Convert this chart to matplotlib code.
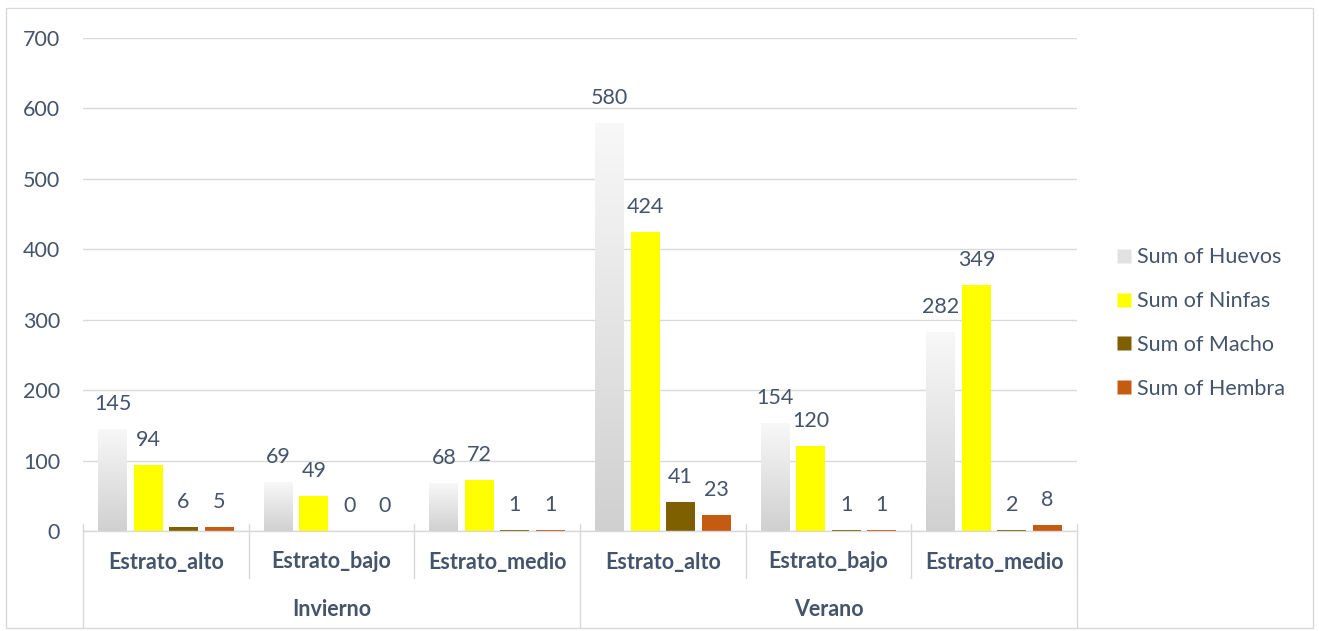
import numpy as np
import matplotlib.pyplot as plt
from matplotlib.colors import LinearSegmentedColormap
from matplotlib.lines import Line2D
from matplotlib.patches import Rectangle
import matplotlib.transforms as mtransforms

# Data
seasons = ['Invierno', 'Verano']
strata = ['Estrato_alto', 'Estrato_bajo', 'Estrato_medio'] * 2
series_names = ['Sum of Huevos', 'Sum of Ninfas', 'Sum of Macho', 'Sum of Hembra']
huevos = [145, 69, 68, 580, 154, 282]
ninfas = [94, 49, 72, 424, 120, 349]
macho = [6, 0, 1, 41, 1, 2]
hembra = [5, 0, 1, 23, 1, 8]
yticks = [0, 100, 200, 300, 400, 500, 600, 700]

colors = [None, '#ffff00', '#7f6000', '#c55a11']
text_col = '#44546a'
grid_col = '#d9d9d9'
fs = 15.5

plt.rcParams['font.family'] = ['Lato', 'DejaVu Sans']

fig = plt.figure(figsize=(13.19, 6.31), dpi=100)
ax = fig.add_axes([83 / 1319, 1 - 531 / 631, (1077 - 83) / 1319, 493 / 631])

x = np.arange(len(strata))
bw = 0.175
step = 0.214
offsets = (np.arange(4) - 1.5) * step
all_series = [huevos, ninfas, macho, hembra]

grad_cmap = LinearSegmentedColormap.from_list('gr', ['#f8f8f8', '#d0d0d0'])
grad = np.linspace(0, 1, 256).reshape(-1, 1)

for i, vals in enumerate(all_series):
    pos = x + offsets[i]
    if i == 0:
        bars = ax.bar(pos, vals, bw, color='none', edgecolor='none', zorder=2)
        for rect in bars:
            x0 = rect.get_x()
            h = rect.get_height()
            im = ax.imshow(grad, extent=[x0, x0 + bw, 0, h], aspect='auto',
                           cmap=grad_cmap, origin='upper', zorder=2)
            im.set_clip_path(rect)
    else:
        bars = ax.bar(pos, vals, bw, color=colors[i], edgecolor='none', zorder=2)
    for p, v in zip(pos, vals):
        ax.annotate(str(v), (p, v), xytext=(0, 18), textcoords='offset points',
                    ha='center', va='center', fontsize=fs, color=text_col)

ax.set_xlim(-0.5, len(strata) - 0.5)
ax.set_ylim(0, 700)
ax.set_yticks(yticks)
ax.tick_params(axis='y', length=0, pad=16.5, labelsize=fs, labelcolor=text_col)
ax.set_xticks([])
ax.grid(axis='y', color=grid_col, linewidth=1, zorder=0)
ax.set_axisbelow(True)
for s in ['top', 'right', 'left']:
    ax.spines[s].set_visible(False)
ax.spines['bottom'].set_color(grid_col)
ax.spines['bottom'].set_linewidth(1)

# Category labels
trans = mtransforms.blended_transform_factory(ax.transData, ax.transAxes)
for xi, name in zip(x, strata):
    ax.text(xi, -31 / 493, name, transform=trans, ha='center', va='center',
            fontsize=fs, fontweight='bold', color=text_col)
for k, season in enumerate(seasons):
    ax.text(k * 3 + 1, -78 / 493, season, transform=trans, ha='center', va='center',
            fontsize=fs, fontweight='bold', color=text_col)

for b in [0.5, 1.5, 3.5, 4.5]:
    ax.plot([b, b], [7 / 493, -47 / 493], transform=trans, color=grid_col,
            linewidth=1, clip_on=False)
for b in [-0.5, 2.5, 5.5]:
    ax.plot([b, b], [7 / 493, -97 / 493], transform=trans, color=grid_col,
            linewidth=1, clip_on=False)

# Outer border
fig.patches.append(Rectangle((6 / 1319, 3 / 631), 1307 / 1319, 620 / 631,
                             transform=fig.transFigure, fill=False,
                             edgecolor=grid_col, linewidth=1))

# Legend
handles = [Line2D([], [], linestyle='none', marker='s', markersize=10,
                  markerfacecolor=c if c else '#e2e2e2', markeredgecolor='none')
           for c in colors]
fig.legend(handles, series_names, loc='center left', bbox_to_anchor=(1095 / 1319, 1 - 323 / 631),
           frameon=False, fontsize=fs, labelcolor=text_col, labelspacing=1.1,
           handletextpad=0.15, handlelength=0.9)

fig.savefig('out.png', dpi=100)
